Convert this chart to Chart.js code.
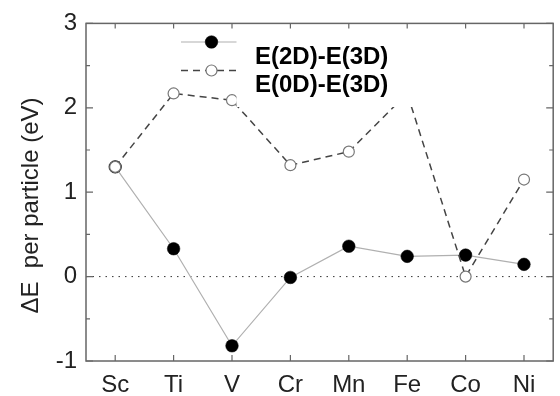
<!DOCTYPE html>
<html>
<head>
<meta charset="utf-8">
<script src="https://cdn.jsdelivr.net/npm/chart.js@4.4.1/dist/chart.umd.min.js"></script>
<style>
html,body{margin:0;padding:0;background:#fff;}
#wrap{width:560px;height:396px;}
</style>
</head>
<body>
<div id="wrap"><canvas id="c" width="560" height="396"></canvas></div>
<script>
const categories = ['Sc', 'Ti', 'V', 'Cr', 'Mn', 'Fe', 'Co', 'Ni'];
const e2D = [1.30, 0.33, -0.82, -0.01, 0.36, 0.24, 0.255, 0.145];
const e0D = [1.30, 2.17, 2.09, 1.32, 1.48, 2.17, 0.00, 1.15];
const seriesNames = ['E(2D)-E(3D)', 'E(0D)-E(3D)'];
const yTicks = [-1, 0, 1, 2, 3];
const yTitle = 'ΔE  per particle (eV)';

const FONT = "'Liberation Sans', Arial, sans-serif";

const s2D = {
  label: seriesNames[0], data: e2D,
  borderColor: '#b0b0b0', borderWidth: 1.2,
  pointRadius: 6.3, pointBackgroundColor: '#000', pointBorderColor: '#000', pointBorderWidth: 0.5,
  tension: 0, order: 2
};
const s0D = {
  label: seriesNames[1], data: e0D,
  borderColor: '#444', borderWidth: 1.5, borderDash: [7, 5],
  pointRadius: 5.5, pointBackgroundColor: '#fff', pointBorderColor: '#777', pointBorderWidth: 1.2,
  tension: 0, order: 1
};

const zeroLine = {
  id: 'zeroLine',
  beforeDatasetsDraw(chart) {
    const {ctx, chartArea: a, scales: {y}} = chart;
    const py = y.getPixelForValue(0);
    ctx.save();
    ctx.strokeStyle = '#333';
    ctx.lineWidth = 1;
    ctx.setLineDash([1.5, 5]);
    ctx.beginPath(); ctx.moveTo(a.left, py); ctx.lineTo(a.right, py); ctx.stroke();
    ctx.restore();
  }
};

const legendBox = {
  id: 'legendBox',
  afterDatasetsDraw(chart) {
    const {ctx} = chart;
    ctx.save();
    ctx.fillStyle = '#fff';
    ctx.fillRect(236.5, 28, 186, 79);
    const sets = [s2D, s0D];
    const sy = [42, 70.5];
    const ty = [57, 85];
    sets.forEach((s, i) => {
      ctx.strokeStyle = s.borderColor;
      ctx.lineWidth = s.borderWidth;
      ctx.setLineDash(s.borderDash || []);
      ctx.beginPath(); ctx.moveTo(181, sy[i]); ctx.lineTo(236.5, sy[i]); ctx.stroke();
      ctx.setLineDash([]);
      ctx.beginPath(); ctx.arc(211.5, sy[i], s.pointRadius, 0, Math.PI * 2);
      ctx.fillStyle = s.pointBackgroundColor; ctx.fill();
      ctx.strokeStyle = s.pointBorderColor; ctx.lineWidth = s.pointBorderWidth; ctx.stroke();
      ctx.fillStyle = '#000';
      ctx.font = 'bold 24px ' + FONT;
      ctx.textBaseline = 'middle';
      ctx.textAlign = 'left';
      ctx.fillText(s.label, 255, ty[i]);
    });
    ctx.restore();
  }
};

const frame = {
  id: 'frame',
  afterDraw(chart) {
    const {ctx, chartArea: a, scales: {x, y}} = chart;
    ctx.save();
    ctx.strokeStyle = '#666';
    ctx.lineWidth = 1.5;
    ctx.setLineDash([]);
    ctx.strokeRect(a.left, a.top, a.right - a.left, a.bottom - a.top);
    ctx.lineWidth = 1.2;
    ctx.beginPath();
    for (let v = yTicks[0]; v <= yTicks[yTicks.length - 1] + 1e-9; v += 0.5) {
      const py = y.getPixelForValue(v);
      const len = Number.isInteger(v) ? 7 : 4;
      ctx.moveTo(a.left, py); ctx.lineTo(a.left + len, py);
      ctx.moveTo(a.right, py); ctx.lineTo(a.right - len, py);
    }
    categories.forEach((c, i) => {
      const px = x.getPixelForValue(i);
      ctx.moveTo(px, a.bottom); ctx.lineTo(px, a.bottom - 6);
      ctx.moveTo(px, a.top); ctx.lineTo(px, a.top + 5);
    });
    ctx.stroke();
    ctx.restore();
  }
};

new Chart(document.getElementById('c'), {
  type: 'line',
  data: { labels: categories, datasets: [s2D, s0D] },
  options: {
    responsive: false,
    animation: false,
    devicePixelRatio: 1,
    layout: { padding: { top: 21, right: 2.5, left: 0, bottom: 0 } },
    plugins: { legend: { display: false }, tooltip: { enabled: false } },
    scales: {
      x: {
        type: 'category', offset: true,
        grid: { display: false, drawTicks: false }, border: { display: false },
        ticks: { font: { family: FONT, size: 24 }, color: '#222', padding: 10, maxRotation: 0, autoSkip: false },
        afterFit(s) { s.height = 35; }
      },
      y: {
        min: -1, max: 3,
        grid: { display: false, drawTicks: false }, border: { display: false },
        afterBuildTicks(s) { s.ticks = yTicks.map(v => ({ value: v })); },
        ticks: { font: { family: FONT, size: 24 }, color: '#222', padding: 9 },
        title: { display: true, text: yTitle + '    ', font: { family: FONT, size: 24 }, color: '#222', padding: { top: 17, bottom: 0 } },
        afterFit(s) { s.width = 86; }
      }
    }
  },
  plugins: [zeroLine, legendBox, frame]
});
</script>
</body>
</html>
